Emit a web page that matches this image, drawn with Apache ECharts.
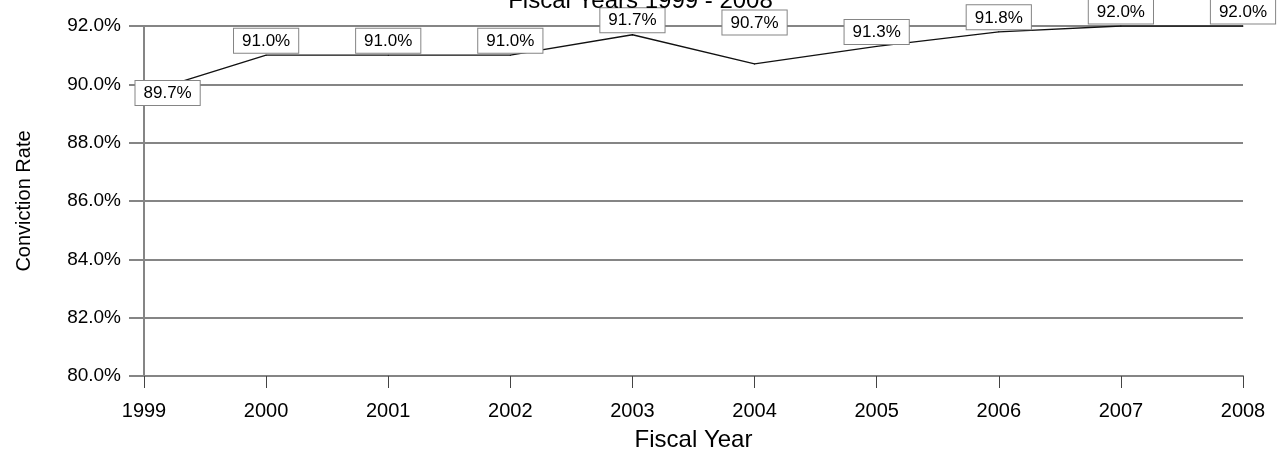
<!DOCTYPE html>
<html lang="en">
<head>
    <meta charset="UTF-8">
    <title>Conviction Rate</title>
    <style>
        body { margin: 0; background: #fff; }
        #box { width: 1281px; height: 457px; }
    </style>
</head>
<body>
    <div id="box"></div>
</body>
<script src="https://cdn.jsdelivr.net/npm/echarts@6/dist/echarts.min.js"></script>
<script>
    // data
    var years = ["1999", "2000", "2001", "2002", "2003", "2004", "2005", "2006", "2007", "2008"];
    var rates = [89.7, 91.0, 91.0, 91.0, 91.7, 90.7, 91.3, 91.8, 92.0, 92.0];
    var yTicks = [80, 82, 84, 86, 88, 90, 92];

    var font = "Liberation Sans, Arial, sans-serif";
    var gray = "#858585";

    // label placement per point (same order as years)
    var seriesData = [];
    for (var i = 0; i < rates.length; i++) {
        var lab = { position: "top", distance: 2 };
        if (i == 0) {
            lab = { position: "right", distance: 0, offset: [-9, 0] };
        }
        if (i == 5) {
            lab = { position: "top", distance: 29 };
        }
        seriesData.push({ value: rates[i], label: lab });
    }

    var box = echarts.init(document.getElementById("box"));
    var option = {
        animation: false,
        title: {
            text: "Fiscal Years 1999 - 2008",
            left: "center",
            top: -16,
            textStyle: {
                color: "#000",
                fontFamily: font,
                fontWeight: "normal",
                fontSize: 24
            }
        },
        grid: {
            left: 144,
            right: 38,
            top: 26,
            bottom: 77
        },
        xAxis: {
            type: "category",
            boundaryGap: false,
            data: years,
            name: "Fiscal Year",
            nameLocation: "middle",
            nameGap: 52,
            nameTextStyle: {
                color: "#000",
                fontFamily: font,
                fontSize: 24
            },
            axisLine: { show: true, lineStyle: { color: gray, width: 2 } },
            axisTick: {
                show: true,
                alignWithLabel: true,
                length: 12,
                lineStyle: { color: "#444", width: 1 }
            },
            axisLabel: {
                color: "#000",
                fontFamily: font,
                fontSize: 20,
                margin: 25
            },
            splitLine: { show: false }
        },
        yAxis: {
            type: "value",
            min: yTicks[0],
            max: yTicks[yTicks.length - 1],
            interval: 2,
            name: "Conviction Rate",
            nameLocation: "middle",
            nameGap: 110,
            nameTextStyle: {
                color: "#000",
                fontFamily: font,
                fontSize: 20
            },
            axisLine: { show: true, lineStyle: { color: gray, width: 2 } },
            axisTick: {
                show: true,
                length: 15,
                lineStyle: { color: gray, width: 2 }
            },
            axisLabel: {
                color: "#000",
                fontFamily: font,
                fontSize: 19,
                margin: 23,
                formatter: function (v) {
                    return v.toFixed(1) + "%";
                }
            },
            splitLine: { show: true, lineStyle: { color: gray, width: 2 } }
        },
        series: [{
            type: "line",
            data: seriesData,
            symbol: "circle",
            symbolSize: 1,
            itemStyle: { color: "#000" },
            lineStyle: { color: "#111", width: 1.3 },
            label: {
                show: true,
                color: "#000",
                fontFamily: font,
                fontSize: 17,
                backgroundColor: "#fff",
                borderColor: gray,
                borderWidth: 1,
                padding: [4, 8, 3, 8],
                formatter: function (p) {
                    return p.value.toFixed(1) + "%";
                }
            }
        }]
    };
    box.setOption(option);
</script>
</html>
